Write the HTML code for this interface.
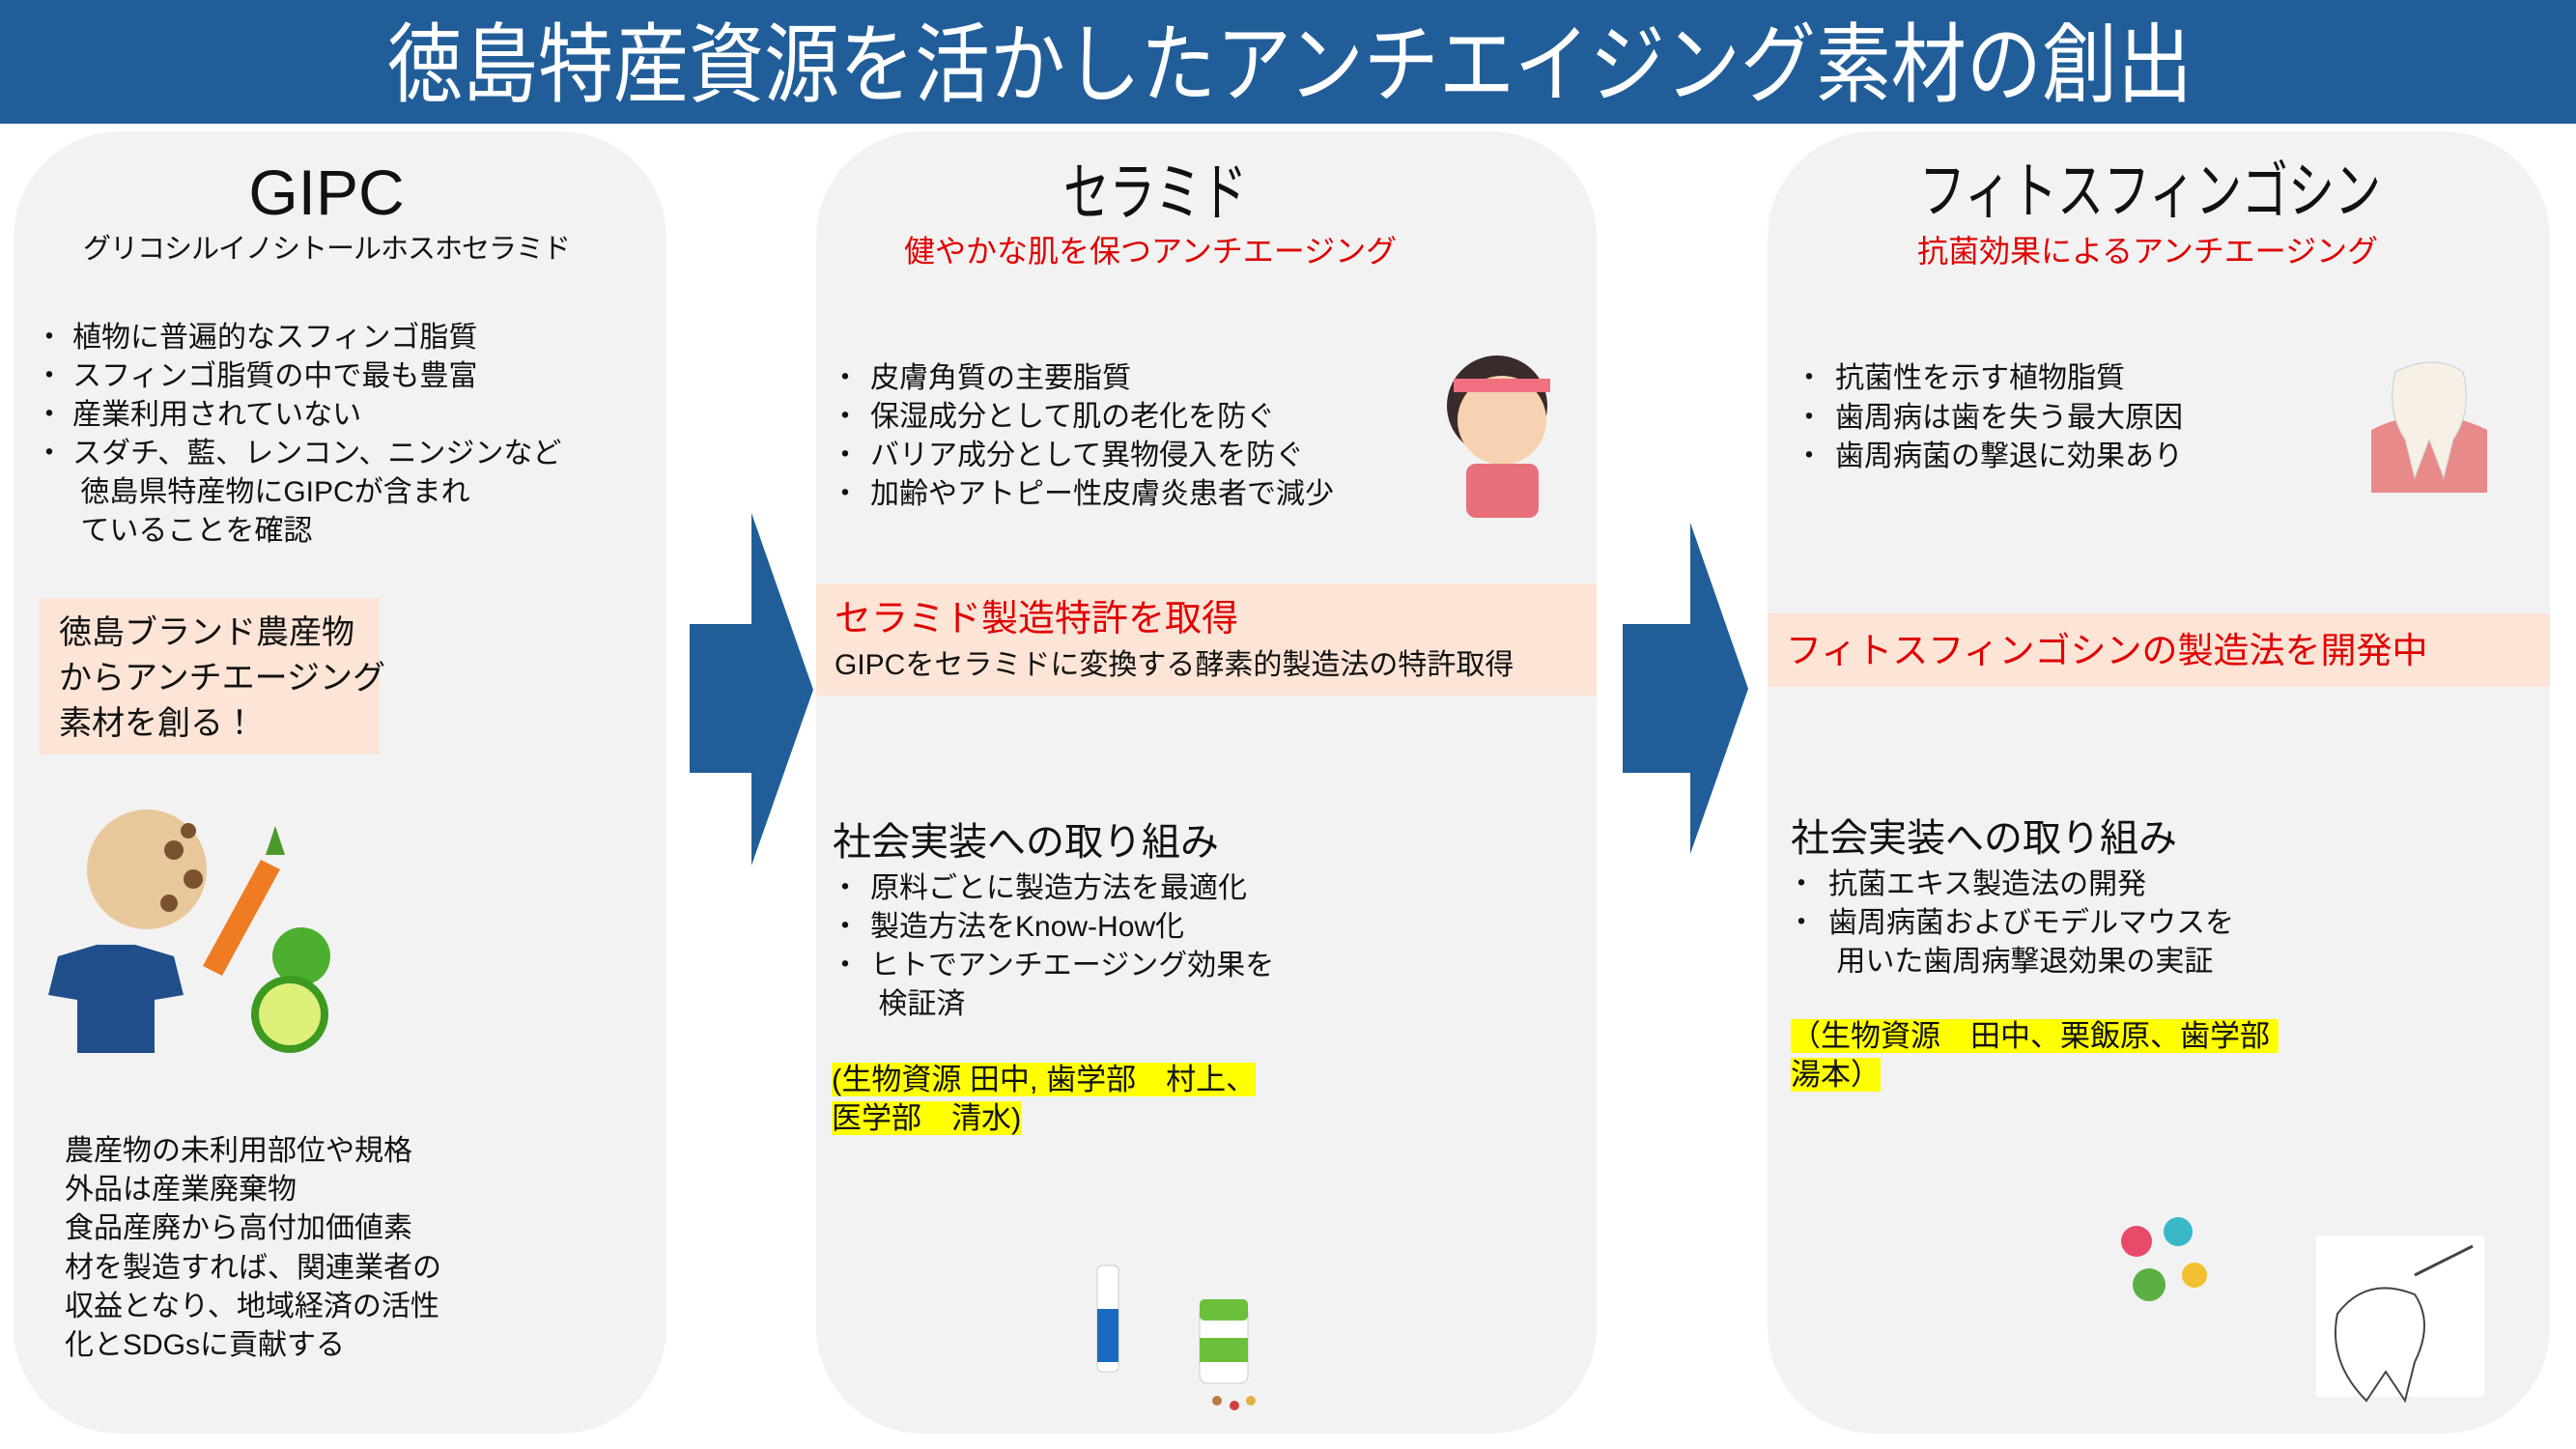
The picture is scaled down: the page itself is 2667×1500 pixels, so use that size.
<!DOCTYPE html>
<html><head><meta charset="utf-8">
<style>
*{margin:0;padding:0;box-sizing:border-box}
body{width:2667px;height:1500px;position:relative;background:#fff;overflow:hidden;font-family:"Liberation Sans","Noto Sans CJK JP",sans-serif;color:#111}
.hdr{position:absolute;left:0;top:0;width:2667px;height:128px;background:#215e99}
.t{position:absolute;white-space:nowrap;line-height:1}
.panel{position:absolute;background:#f2f2f2;border-radius:110px}
.pink{position:absolute;background:#fce4d6}
.y{background:#ffff00}
.r{color:#e00000}
</style></head><body>
<div class="hdr"></div>
<div class="t" style="left:401px;top:22px;font-size:78px;color:#fff;transform:scaleY(1.15);transform-origin:left top">徳島特産資源を活かしたアンチエイジング素材の創出</div>

<div class="panel" style="left:14px;top:136px;width:676px;height:1348px"></div>
<div class="panel" style="left:845px;top:136px;width:808px;height:1348px"></div>
<div class="panel" style="left:1830px;top:136px;width:810px;height:1348px"></div>

<svg style="position:absolute;left:0;top:0" width="2667" height="1500">
<polygon points="714,646 778,646 778,531 842,714 778,896 778,800 714,800" fill="#215e99"/>
<polygon points="1680,646 1750,646 1750,541 1810,713 1750,884 1750,800 1680,800" fill="#215e99"/>
<circle cx="152" cy="900" r="62" fill="#e8c89a"/>
<circle cx="180" cy="880" r="10" fill="#7a5230"/><circle cx="200" cy="910" r="10" fill="#7a5230"/><circle cx="175" cy="935" r="9" fill="#7a5230"/><circle cx="195" cy="860" r="8" fill="#7a5230"/>
<polygon points="210,1000 270,890 290,900 230,1010" fill="#ef7c22"/>
<path d="M275,885 l10,-30 l10,30 z" fill="#4a9a2a"/>
<path d="M60,990 l40,-12 l40,0 l40,12 l10,40 l-30,5 l0,55 l-80,0 l0,-55 l-30,-5 z" fill="#1f4e8a"/>
<circle cx="312" cy="990" r="30" fill="#4caf30"/>
<circle cx="300" cy="1050" r="40" fill="#3c9a20"/><circle cx="300" cy="1050" r="32" fill="#dff07a"/>
<circle cx="1550" cy="420" r="52" fill="#3a2a2a"/>
<circle cx="1555" cy="435" r="46" fill="#f7d2b0"/>
<rect x="1505" y="392" width="100" height="14" fill="#f07080"/>
<rect x="1518" y="480" width="75" height="56" rx="10" fill="#e8707a"/>
<path d="M2455,445 q60,-30 120,0 l0,65 l-120,0 z" fill="#e88a8a"/>
<path d="M2480,385 q40,-20 70,0 q10,40 -10,70 l-10,40 l-15,-40 l-15,40 l-10,-40 q-20,-30 -10,-70z" fill="#f6f0e6" stroke="#ccc"/>
<rect x="1136" y="1310" width="22" height="110" rx="5" fill="#fff" stroke="#ccc"/>
<rect x="1136" y="1355" width="22" height="55" fill="#1b6ac0"/>
<rect x="1242" y="1352" width="50" height="80" rx="8" fill="#fff" stroke="#ccc"/>
<rect x="1242" y="1345" width="50" height="22" rx="5" fill="#6cbf3a"/>
<rect x="1242" y="1385" width="50" height="25" fill="#6cbf3a"/>
<circle cx="1260" cy="1450" r="5" fill="#b97a40"/><circle cx="1278" cy="1455" r="5" fill="#d04040"/><circle cx="1295" cy="1450" r="5" fill="#e0b040"/>
<circle cx="2212" cy="1285" r="16" fill="#e84a6a"/><circle cx="2255" cy="1275" r="15" fill="#3ab8c8"/><circle cx="2272" cy="1320" r="13" fill="#f2c030"/><circle cx="2225" cy="1330" r="17" fill="#5ab040"/>
<rect x="2398" y="1279" width="174" height="167" fill="#fff"/>
<path d="M2420,1360 q30,-40 80,-20 q20,30 0,70 l-10,40 l-20,-30 l-20,30 q-40,-40 -30,-90z" fill="none" stroke="#444" stroke-width="2"/>
<line x1="2500" y1="1320" x2="2560" y2="1290" stroke="#444" stroke-width="3"/>
</svg>

<div class="t" style="left:338px;top:166px;font-size:66px;transform:translateX(-50%)">GIPC</div>
<div class="t" style="left:86px;top:244px;font-size:29px;letter-spacing:-1px">グリコシルイノシトールホスホセラミド</div>
<div class="t" style="left:36px;top:330px;font-size:30px;line-height:40px">・<br>・<br>・<br>・</div>
<div class="t" style="left:75px;top:330px;font-size:30px;line-height:40px">植物に普遍的なスフィンゴ脂質<br>スフィンゴ脂質の中で最も豊富<br>産業利用されていない<br>スダチ、藍、レンコン、ニンジンなど<br>&nbsp;徳島県特産物にGIPCが含まれ<br>&nbsp;ていることを確認</div>
<div class="pink" style="left:41px;top:619px;width:352px;height:162px"></div>
<div class="t" style="left:61px;top:632px;font-size:34px;line-height:47px">徳島ブランド農産物<br>からアンチエージング<br>素材を創る！</div>
<div class="t" style="left:67px;top:1172px;font-size:30px;line-height:40.2px">農産物の未利用部位や規格<br>外品は産業廃棄物<br>食品産廃から高付加価値素<br>材を製造すれば、関連業者の<br>収益となり、地域経済の活性<br>化とSDGsに貢献する</div>

<div class="t" style="left:1196px;top:166px;font-size:66px;transform:translateX(-50%) scaleX(0.72)">セラミド</div>
<div class="t r" style="left:936px;top:244px;font-size:32px">健やかな肌を保つアンチエージング</div>
<div class="t" style="left:860px;top:372px;font-size:30px;line-height:40px">・<br>・<br>・<br>・</div>
<div class="t" style="left:901px;top:372px;font-size:30px;line-height:40px">皮膚角質の主要脂質<br>保湿成分として肌の老化を防ぐ<br>バリア成分として異物侵入を防ぐ<br>加齢やアトピー性皮膚炎患者で減少</div>
<div class="pink" style="left:845px;top:604px;width:808px;height:116px"></div>
<div class="t r" style="left:864px;top:622px;font-size:38px">セラミド製造特許を取得</div>
<div class="t" style="left:864px;top:674px;font-size:30px">GIPCをセラミドに変換する酵素的製造法の特許取得</div>
<div class="t" style="left:862px;top:852px;font-size:40px">社会実装への取り組み</div>
<div class="t" style="left:860px;top:900px;font-size:30px;line-height:40px">・<br>・<br>・</div>
<div class="t" style="left:901px;top:900px;font-size:30px;line-height:40px">原料ごとに製造方法を最適化<br>製造方法をKnow-How化<br>ヒトでアンチエージング効果を<br>&nbsp;検証済</div>
<div class="t" style="left:861px;top:1098px;font-size:31px;line-height:40px"><span class="y">(生物資源 田中, 歯学部　村上、</span><br><span class="y">医学部　清水)</span></div>

<div class="t" style="left:2226px;top:166px;font-size:64px;transform:translateX(-50%) scaleX(0.75)">フィトスフィンゴシン</div>
<div class="t r" style="left:1985px;top:244px;font-size:32px">抗菌効果によるアンチエージング</div>
<div class="t" style="left:1858px;top:372px;font-size:30px;line-height:40.5px">・<br>・<br>・</div>
<div class="t" style="left:1900px;top:372px;font-size:30px;line-height:40.5px">抗菌性を示す植物脂質<br>歯周病は歯を失う最大原因<br>歯周病菌の撃退に効果あり</div>
<div class="pink" style="left:1830px;top:635px;width:810px;height:76px"></div>
<div class="t r" style="left:1849px;top:655px;font-size:37px">フィトスフィンゴシンの製造法を開発中</div>
<div class="t" style="left:1854px;top:848px;font-size:40px">社会実装への取り組み</div>
<div class="t" style="left:1850px;top:896px;font-size:30px;line-height:40px">・<br>・</div>
<div class="t" style="left:1893px;top:896px;font-size:30px;line-height:40px">抗菌エキス製造法の開発<br>歯周病菌およびモデルマウスを<br>&nbsp;用いた歯周病撃退効果の実証</div>
<div class="t" style="left:1854px;top:1053px;font-size:31px;line-height:40px"><span class="y">（生物資源　田中、栗飯原、歯学部&nbsp;</span><br><span class="y">湯本）</span></div>
</body></html>
